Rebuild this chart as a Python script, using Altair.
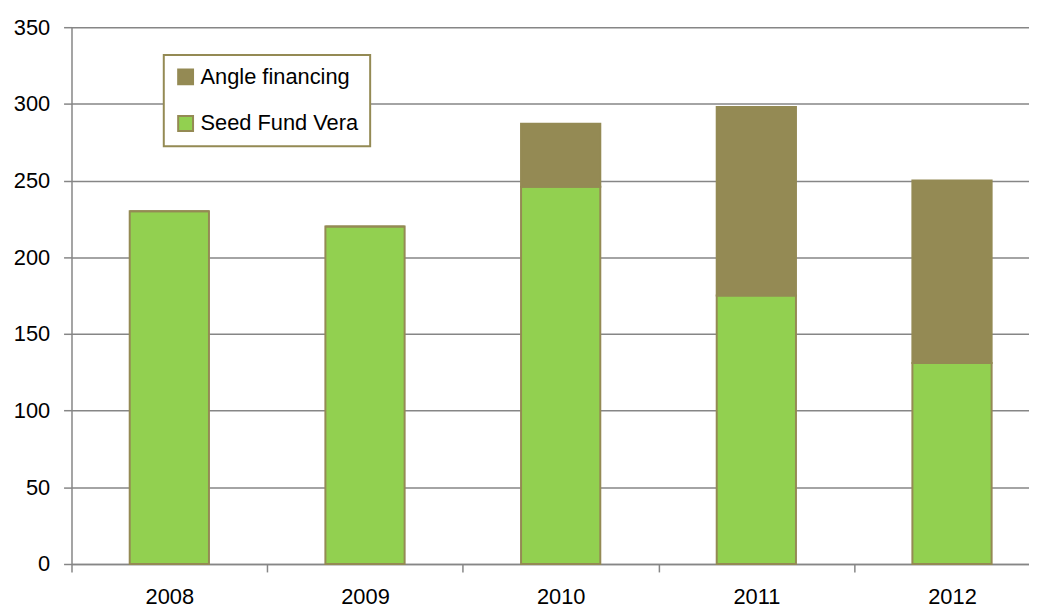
import altair as alt
import pandas as pd

years = ["2008", "2009", "2010", "2011", "2012"]
seed_fund = [230, 220, 246, 175, 131]
angle_fin = [0, 0, 41, 123, 119]
series_names = ["Angle financing", "Seed Fund Vera"]
y_ticks = [0, 50, 100, 150, 200, 250, 300, 350]

rows = []
for i, y in enumerate(years):
    rows.append({"year": y, "series": "Seed Fund Vera", "value": seed_fund[i], "ord": 0})
    rows.append({"year": y, "series": "Angle financing", "value": angle_fin[i], "ord": 1})
df = pd.DataFrame(rows)

FONT = "Liberation Sans"
OLIVE = "#948A54"
GREEN = "#92D050"
GRID = "#868686"

chart = alt.Chart(df).mark_bar(stroke=OLIVE, strokeWidth=2, width=alt.RelativeBandSize(0.405)).encode(
    x=alt.X("year:N", sort=years,
            scale=alt.Scale(range=[0, 986], paddingInner=0, paddingOuter=0),
            axis=alt.Axis(title=None, labelAngle=0, tickBand="extent", tickSize=8,
                          domainColor=GRID, tickColor=GRID, domainWidth=1.5, tickWidth=1.5,
                          labelFont=FONT, labelFontSize=22, labelColor="black",
                          labelPadding=15, grid=False)),
    y=alt.Y("value:Q", stack="zero",
            scale=alt.Scale(domain=[0, 350], nice=False),
            axis=alt.Axis(title=None, values=y_ticks, tickSize=8, grid=True,
                          gridColor=GRID, gridWidth=1.5, domainColor=GRID, tickColor=GRID,
                          domainWidth=1.5, tickWidth=1.5,
                          labelFont=FONT, labelFontSize=22, labelColor="black",
                          labelPadding=14)),
    color=alt.Color("series:N", sort=series_names,
                    scale=alt.Scale(domain=series_names, range=[OLIVE, GREEN]),
                    legend=alt.Legend(title=None, orient="none", legendX=93, legendY=28,
                                      fillColor="white", strokeColor=OLIVE,
                                      padding=11, symbolType="square", symbolSize=225,
                                      symbolStrokeColor=OLIVE, symbolStrokeWidth=2,
                                      labelFont=FONT, labelFontSize=22, labelColor="black",
                                      rowPadding=23, labelOffset=4)),
    order=alt.Order("ord:Q"),
).properties(
    width=965, height=541,
    autosize=alt.AutoSizeParams(type="none"),
    padding={"left": 64, "top": 17, "right": 0, "bottom": 43},
).configure_view(stroke=None).configure_legend(strokeWidth=2)

chart.save("out.html", embed_options={"renderer": "svg", "actions": False})
